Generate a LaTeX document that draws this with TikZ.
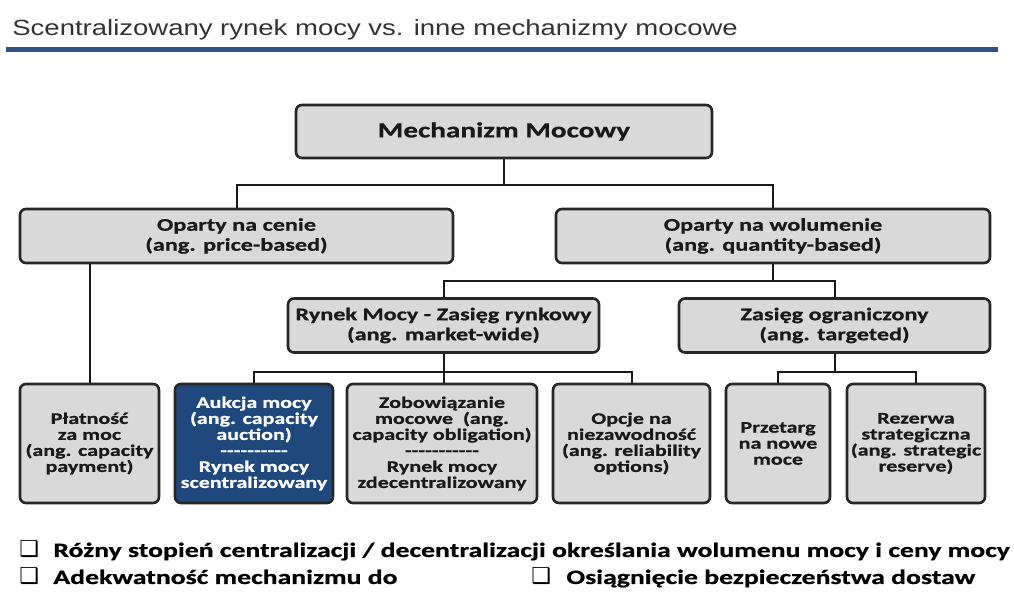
\documentclass[tikz,border=0pt]{standalone}
\usepackage{fontspec}
\setmainfont{Carlito}[FakeStretch=1.36, BoldFeatures={FakeBold=0.8}]
\newfontfamily\titlefont{Liberation Sans}[FakeStretch=1.25]
\newfontfamily\symfont{DejaVu Sans}
\usetikzlibrary{calc}

\definecolor{boxgray}{RGB}{217,217,217}
\definecolor{boxblue}{RGB}{31,73,125}
\definecolor{ruleblue}{RGB}{47,82,135}
\definecolor{titlegray}{RGB}{51,51,51}

\newcommand\dashrow[1]{\foreach \k in {1,...,#1}{-\kern0pt}}

\tikzset{
  mbox/.style={draw=black!85, line width=1.3pt, rounded corners=3pt, fill=boxgray,
    align=center, inner sep=0pt, text=black!90},
  toplvl/.style={mbox, font=\bfseries\fontsize{10.75}{12}\selectfont},
  midlvl/.style={mbox, font=\bfseries\fontsize{8.9}{10}\selectfont, minimum height=27pt},
  lowlvl/.style={mbox, font=\bfseries\fontsize{8.1}{8}\selectfont, minimum height=59.5pt},
  link/.style={line width=1pt, black!90},
  note/.style={anchor=base west, inner sep=0pt, font=\bfseries\fontsize{10.2}{12}\selectfont},
  tick/.style={anchor=base west, inner sep=0pt, font=\symfont\fontsize{11}{12}\selectfont}
}

\begin{document}
\begin{tikzpicture}[x=0.5pt, y=-0.5pt]
  \path[fill=white] (0,0) rectangle (1014,592);
  \useasboundingbox (0,0) rectangle (1014,592);

  \node[anchor=base west, inner sep=0pt, text=titlegray,
    font=\titlefont\fontsize{11}{13}\selectfont] (title) at (12,36)
    {Scentralizowany rynek mocy vs. inne mechanizmy mocowe};
  \draw[ruleblue, line width=2.5pt] (6,50) -- (998,50);

  \node[toplvl, minimum width=208pt, minimum height=26.5pt] (mech) at (504,131.5) {Mechanizm Mocowy};

  \node[midlvl, minimum width=216.5pt] (cenie) at (236.5,236) {Oparty na cenie\\(ang. price-based)};
  \node[midlvl, minimum width=217pt] (wolumen) at (773,236) {Oparty na wolumenie\\(ang. quantity-based)};

  \node[midlvl, minimum width=155.5pt] (rynkowy) at (443.5,325.5) {Rynek Mocy - Zasięg rynkowy\\(ang. market-wide)};
  \node[midlvl, minimum width=155.5pt] (ograniczony) at (834.5,325.5) {Zasięg ograniczony\\(ang. targeted)};

  \node[lowlvl, minimum width=69.5pt] (platnosc) at (89.5,443.5) {Płatność\\za moc\\(ang. capacity\\payment)};
  \node[lowlvl, minimum width=79pt, fill=boxblue, text=white] (aukcja) at (254,443.5)
    {Aukcja mocy\\(ang. capacity\\auction)\\\dashrow{10}\\Rynek mocy\\scentralizowany};
  \node[lowlvl, minimum width=95pt] (zobowiazanie) at (442,443.5)
    {Zobowiązanie\\mocowe~ (ang.\\capacity obligation)\\\dashrow{11}\\Rynek mocy\\zdecentralizowany};
  \node[lowlvl, minimum width=78.5pt] (opcje) at (631.5,443.5) {Opcje na\\niezawodność\\(ang. reliability\\options)};
  \node[lowlvl, minimum width=52pt] (przetarg) at (778,443.5) {Przetarg\\na nowe\\moce};
  \node[lowlvl, minimum width=69pt] (rezerwa) at (916,443.5) {Rezerwa\\strategiczna\\(ang. strategic\\reserve)};

  \draw[link] (mech.south) -- ++(0,26) coordinate (j1) -| (cenie.north);
  \draw[link] (j1) -| (wolumen.north);
  \draw[link] (wolumen.south) -- ++(0,17) coordinate (j2) -| (rynkowy.north);
  \draw[link] (j2) -| (ograniczony.north);
  \draw[link] (rynkowy.south) -- (rynkowy.south |- zobowiazanie.north);
  \draw[link] (rynkowy.south) ++(0,18) coordinate (j3) -| (aukcja.north);
  \draw[link] (j3) -| (opcje.north);
  \draw[link] (ograniczony.south) -- ++(0,18) coordinate (j4) -| (przetarg.north);
  \draw[link] (j4) -| (rezerwa.north);
  \draw[link] (platnosc.north) -- (platnosc.north |- cenie.south);

  \node[tick] (box1) at (19,557) {❑};
  \node[note] (note1) at (53,557) {Różny stopień centralizacji / decentralizacji określania wolumenu mocy i ceny mocy};
  \node[tick] (box2) at (19,584) {❑};
  \node[note] (note2) at (53,584) {Adekwatność mechanizmu do};
  \node[tick] (box3) at (531,584) {❑};
  \node[note] (note3) at (566,584) {Osiągnięcie bezpieczeństwa dostaw};
\end{tikzpicture}
\end{document}
